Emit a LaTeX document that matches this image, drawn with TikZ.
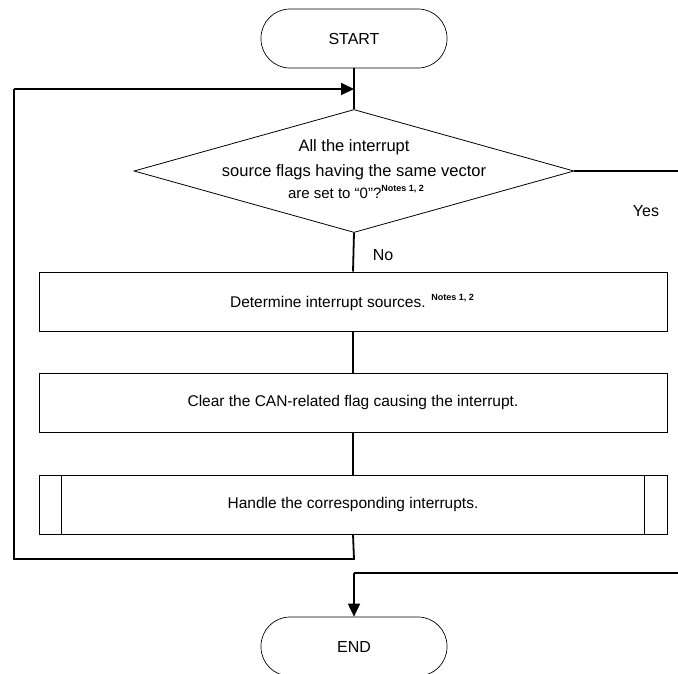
\documentclass[tikz,border=0pt]{standalone}
\usepackage{fontspec}
\setmainfont{Liberation Sans}
\usetikzlibrary{shapes.geometric,arrows.meta}
\tikzset{
  term/.style={draw, line width=0.7pt, rounded corners=29pt, minimum width=186pt, minimum height=59pt, inner sep=0pt, font=\fontsize{16}{18}\selectfont},
  procbox/.style={draw, line width=1pt, minimum width=628pt, minimum height=59pt, inner sep=0pt},
  txt/.style={font=\fontsize{15.5}{18}\selectfont, inner sep=0pt},
  dtxt/.style={font=\fontsize{16.5}{18}\selectfont, inner sep=0pt},
  conn/.style={line width=1.8pt},
  arr/.style={line width=1.8pt, -{Triangle[length=13pt,width=12pt]}},
  decshape/.style={draw, diamond, line width=0.8pt, minimum width=440pt, minimum height=123pt, inner sep=0pt, shape aspect=3.58},
}
\newcommand{\notes}{\raisebox{7pt}{\fontsize{9}{10}\selectfont\bfseries Notes 1, 2}}
\begin{document}
\begin{tikzpicture}[x=1pt,y=-1pt]
\useasboundingbox (0,0) rectangle (678,673);
\clip (0,0) rectangle (678,673);
\node[term] (start) at (354,38.5) {START};
\node[decshape] (dec) at (354,171) {};
\node[dtxt] (dt1) at (354,147) {All the interrupt};
\node[dtxt] (dt2) at (354,172) {source flags having the same vector};
\node[dtxt, font=\fontsize{15}{17}\selectfont] (dt3) at (356,192) {are set to “0”?\notes};
\node[procbox] (b1) at (353,301.5) {};
\node[txt] (b1t) at (352,302) {Determine interrupt sources. \notes};
\node[procbox] (b2) at (353,402.5) {};
\node[txt] (b2t) at (353,402.5) {Clear the CAN-related flag causing the interrupt.};
\node[procbox] (b3) at (353,504.5) {};
\node[txt] (b3t) at (353,504.5) {Handle the corresponding interrupts.};
\draw[line width=1pt] ([xshift=23pt]b3.north west) -- ([xshift=23pt]b3.south west);
\draw[line width=1pt] ([xshift=-23pt]b3.north east) -- ([xshift=-23pt]b3.south east);
\node[term] (end) at (354,646.5) {END};
\node[txt, font=\fontsize{16}{18}\selectfont] (yes) at (646,211) {Yes};
\node[txt, font=\fontsize{16}{18}\selectfont] (no) at (383,255) {No};
\coordinate (loopb) at (354,559);
\coordinate (loopbl) at (14,559);
\coordinate (looptl) at (14,89);
\coordinate (loopin) at (354,89);
\coordinate (yesr) at (679,171);
\coordinate (yesrb) at (679,573);
\coordinate (endtop) at (354,573);
\draw[conn] (start.south) -- (dec.north);
\draw[conn] (dec.south) -- (b1.north);
\draw[conn] (b1.south) -- (b2.north);
\draw[conn] (b2.south) -- (b3.north);
\draw[conn] (b3.south) -- (loopb) -- (loopbl) -- (looptl);
\draw[arr] (looptl) -- (loopin);
\draw[conn] (dec.east) -- (yesr);
\draw[conn] (yesrb) -- (endtop);
\draw[arr] (endtop) -- (end.north);
\end{tikzpicture}
\end{document}
